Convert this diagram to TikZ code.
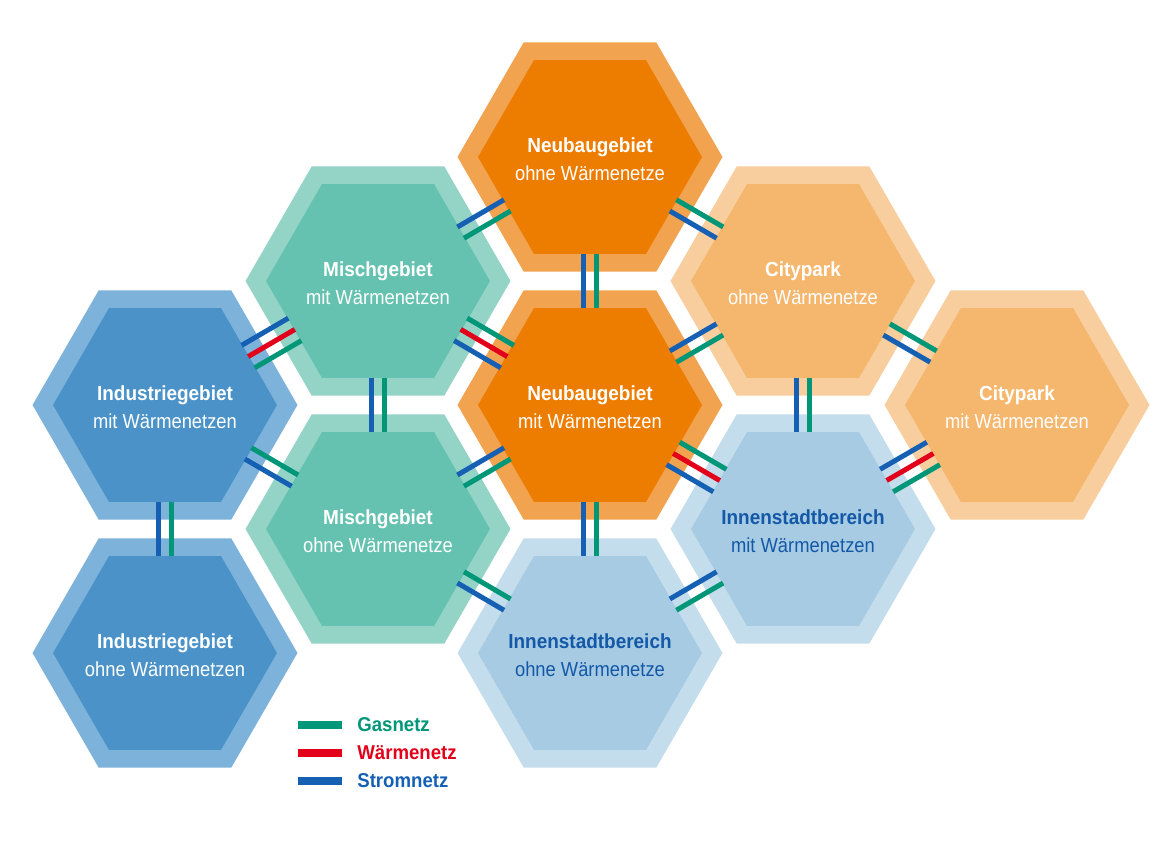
\documentclass[tikz,border=0pt]{standalone}
\usepackage{fontspec}
\setmainfont{Liberation Sans}[BoldFeatures={FakeStretch=0.93}]
\newfontfamily\regf[FakeStretch=0.9]{Liberation Sans}
\usetikzlibrary{shapes.geometric,calc}
\definecolor{orI}{RGB}{237,125,0}
\definecolor{orO}{RGB}{242,163,80}
\definecolor{cpI}{RGB}{245,182,110}
\definecolor{cpO}{RGB}{248,206,158}
\definecolor{tlI}{RGB}{102,194,176}
\definecolor{tlO}{RGB}{148,212,199}
\definecolor{inI}{RGB}{74,146,200}
\definecolor{inO}{RGB}{125,178,218}
\definecolor{lbI}{RGB}{166,203,227}
\definecolor{lbO}{RGB}{195,221,236}
\definecolor{gasC}{RGB}{0,150,120}
\definecolor{warmC}{RGB}{226,0,26}
\definecolor{stromC}{RGB}{22,96,180}
\definecolor{txtB}{RGB}{20,88,168}
\newcommand\wire[4]{%
  \coordinate (sa) at ($(#1)!#3!90:(#2)$);
  \coordinate (sb) at ($(#2)!#3!-90:(#1)$);
  \coordinate (sm) at ($(sa)!0.5!(sb)$);
  \draw[wire,#4] ($(sm)!0.54cm!(sa)$) -- ($(sm)!0.54cm!(sb)$);
}
\begin{document}
\begin{tikzpicture}[x=0.02cm,y=-0.02cm,
  hexo/.style={regular polygon, regular polygon sides=6, minimum size=5.3cm, inner sep=0pt, draw=none},
  hexi/.style={regular polygon, regular polygon sides=6, minimum size=4.48cm, inner sep=0pt, draw=none},
  lbl/.style={align=center, font=\fontsize{11.6}{16}\selectfont, text=white, inner sep=0pt},
  wire/.style={line width=0.1cm},
  legbar/.style={line width=0.15cm},
  legtxt/.style={anchor=west, font=\fontsize{11.4}{13}\selectfont\bfseries, inner sep=0pt}]
\fill[white] (0,0) rectangle (1171,845);
\useasboundingbox (0,0) rectangle (1171,845);
% hexagons
\node[hexo, fill=orO] (NO) at (590,157) {};
\node[hexi, fill=orI] (NOi) at (NO) {};
\node[hexo, fill=orO] (NM) at (590,405) {};
\node[hexi, fill=orI] (NMi) at (NM) {};
\node[hexo, fill=tlO] (MM) at (378,281) {};
\node[hexi, fill=tlI] (MMi) at (MM) {};
\node[hexo, fill=tlO] (MO) at (378,529) {};
\node[hexi, fill=tlI] (MOi) at (MO) {};
\node[hexo, fill=inO] (IM) at (165,405) {};
\node[hexi, fill=inI] (IMi) at (IM) {};
\node[hexo, fill=inO] (IO) at (165,653) {};
\node[hexi, fill=inI] (IOi) at (IO) {};
\node[hexo, fill=cpO] (CO) at (803,281) {};
\node[hexi, fill=cpI] (COi) at (CO) {};
\node[hexo, fill=cpO] (CM) at (1017,405) {};
\node[hexi, fill=cpI] (CMi) at (CM) {};
\node[hexo, fill=lbO] (SM) at (803,529) {};
\node[hexi, fill=lbI] (SMi) at (SM) {};
\node[hexo, fill=lbO] (SO) at (590,653) {};
\node[hexi, fill=lbI] (SOi) at (SO) {};
% labels
\node[lbl] (NOt) at ($(NO)+(0,2)$) {\textbf{Neubaugebiet}\\{\regf ohne Wärmenetze}};
\node[lbl] (NMt) at ($(NM)+(0,2)$) {\textbf{Neubaugebiet}\\{\regf mit Wärmenetzen}};
\node[lbl] (MMt) at ($(MM)+(0,2)$) {\textbf{Mischgebiet}\\{\regf mit Wärmenetzen}};
\node[lbl] (MOt) at ($(MO)+(0,2)$) {\textbf{Mischgebiet}\\{\regf ohne Wärmenetze}};
\node[lbl] (IMt) at ($(IM)+(0,2)$) {\textbf{Industriegebiet}\\{\regf mit Wärmenetzen}};
\node[lbl] (IOt) at ($(IO)+(0,2)$) {\textbf{Industriegebiet}\\{\regf ohne Wärmenetzen}};
\node[lbl] (COt) at ($(CO)+(0,2)$) {\textbf{Citypark}\\{\regf ohne Wärmenetze}};
\node[lbl] (CMt) at ($(CM)+(0,2)$) {\textbf{Citypark}\\{\regf mit Wärmenetzen}};
\node[lbl, text=txtB] (SMt) at ($(SM)+(0,2)$) {\textbf{Innenstadtbereich}\\{\regf mit Wärmenetzen}};
\node[lbl, text=txtB] (SOt) at ($(SO)+(0,2)$) {\textbf{Innenstadtbereich}\\{\regf ohne Wärmenetze}};
% connectors (vertical)
\wire{NO}{NM}{0.13cm}{gasC}   \wire{NO}{NM}{-0.13cm}{stromC}
\wire{MM}{MO}{0.13cm}{gasC}   \wire{MM}{MO}{-0.13cm}{stromC}
\wire{IM}{IO}{0.13cm}{gasC}   \wire{IM}{IO}{-0.13cm}{stromC}
\wire{NM}{SO}{0.13cm}{gasC}   \wire{NM}{SO}{-0.13cm}{stromC}
\wire{CO}{SM}{0.13cm}{gasC}   \wire{CO}{SM}{-0.13cm}{stromC}
% up-right
\wire{MM}{NO}{0.13cm}{stromC} \wire{MM}{NO}{-0.13cm}{gasC}
\wire{MO}{NM}{0.13cm}{stromC} \wire{MO}{NM}{-0.13cm}{gasC}
\wire{SO}{SM}{0.13cm}{stromC} \wire{SO}{SM}{-0.13cm}{gasC}
\wire{NM}{CO}{0.13cm}{stromC} \wire{NM}{CO}{-0.13cm}{gasC}
\wire{IM}{MM}{0.26cm}{stromC} \wire{IM}{MM}{0cm}{warmC} \wire{IM}{MM}{-0.26cm}{gasC}
\wire{SM}{CM}{0.26cm}{stromC} \wire{SM}{CM}{0cm}{warmC} \wire{SM}{CM}{-0.26cm}{gasC}
% down-right
\wire{NO}{CO}{0.13cm}{gasC}   \wire{NO}{CO}{-0.13cm}{stromC}
\wire{IM}{MO}{0.13cm}{gasC}   \wire{IM}{MO}{-0.13cm}{stromC}
\wire{MO}{SO}{0.13cm}{gasC}   \wire{MO}{SO}{-0.13cm}{stromC}
\wire{CO}{CM}{0.13cm}{gasC}   \wire{CO}{CM}{-0.13cm}{stromC}
\wire{MM}{NM}{0.26cm}{gasC}   \wire{MM}{NM}{0cm}{warmC} \wire{MM}{NM}{-0.26cm}{stromC}
\wire{NM}{SM}{0.26cm}{gasC}   \wire{NM}{SM}{0cm}{warmC} \wire{NM}{SM}{-0.26cm}{stromC}
% legend
\coordinate (g1) at (298,725); \coordinate (g2) at (342,725);
\coordinate (w1) at (298,753); \coordinate (w2) at (342,753);
\coordinate (s1) at (298,781); \coordinate (s2) at (342,781);
\draw[legbar,gasC] (g1) -- (g2);
\draw[legbar,warmC] (w1) -- (w2);
\draw[legbar,stromC] (s1) -- (s2);
\node[legtxt, text=gasC] (lgG) at (357,725) {Gasnetz};
\node[legtxt, text=warmC] (lgW) at (357,753) {Wärmenetz};
\node[legtxt, text=stromC] (lgS) at (357,781) {Stromnetz};
\end{tikzpicture}
\end{document}
